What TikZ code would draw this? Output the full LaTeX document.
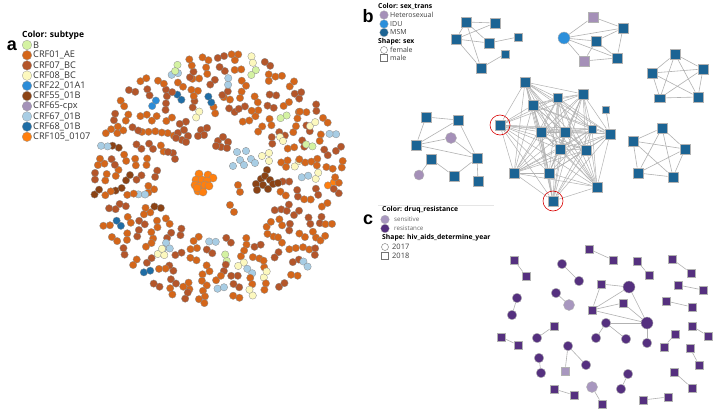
\documentclass[tikz,border=0pt]{standalone}
\usepackage{fontspec}
\setmainfont{Open Sans}
\newfontfamily\lbl{Liberation Sans}
\usetikzlibrary{backgrounds}
\definecolor{cAE}{HTML}{D4661A}
\definecolor{cBC}{HTML}{B4562A}
\definecolor{cLV}{HTML}{8B4315}
\definecolor{cLB}{HTML}{A8CDE4}
\definecolor{cYE}{HTML}{FCF8BE}
\definecolor{cGR}{HTML}{D4F2A2}
\definecolor{cDB}{HTML}{1F6DA5}
\definecolor{cBL}{HTML}{2B8CD8}
\definecolor{cOR}{HTML}{FF7F0E}
\definecolor{cPG}{HTML}{A492B9}
\definecolor{bMSM}{HTML}{1C6494}
\definecolor{bIDU}{HTML}{2B8FDB}
\definecolor{bHET}{HTML}{A590B8}
\definecolor{cRes}{HTML}{55307F}
\definecolor{cSen}{HTML}{A897BF}
\tikzset{
  lettr/.style={font=\lbl\bfseries\fontsize{18}{18}\selectfont, inner sep=0},
  tA/.style={font=\bfseries\fontsize{8.5}{9}\selectfont, anchor=west, inner sep=0},
  tAi/.style={font=\fontsize{9.2}{10}\selectfont, anchor=west, inner sep=0, text=black!80},
  tB/.style={font=\bfseries\fontsize{6.8}{8}\selectfont, anchor=west, inner sep=0},
  tBi/.style={font=\fontsize{7}{8}\selectfont, anchor=west, inner sep=0, text=black!75},
  tCi/.style={font=\fontsize{6.2}{7}\selectfont, anchor=west, inner sep=0, text=black!60},
  tCy/.style={font=\fontsize{7.5}{8}\selectfont, anchor=west, inner sep=0, text=black!75},
  adot/.style={draw=black!45, line width=0.3pt},
  lgdot/.style={circle, inner sep=0, minimum size=9.6pt, draw=black!40, line width=0.3pt},
  lgsm/.style={circle, inner sep=0, minimum size=8.6pt, draw=black!30, line width=0.3pt},
  opc/.style={circle, inner sep=0, minimum size=7pt, draw=black!55, line width=0.4pt},
  ops/.style={rectangle, inner sep=0, minimum size=7pt, draw=black!55, line width=0.4pt},
  bsq/.style={rectangle, inner sep=0, minimum size=10.5pt, fill=bMSM, draw=gray!60, line width=0.4pt},
  bsqs/.style={bsq, minimum size=8pt},
  bcir/.style={circle, inner sep=0, minimum size=10pt, draw=gray!60, line width=0.4pt},
  bedge/.style={draw=black!30, line width=0.6pt},
  redc/.style={circle, draw=red!85!black, line width=0.6pt, minimum size=20pt, inner sep=0},
  csq/.style={rectangle, inner sep=0, minimum size=8.5pt, fill=cRes, draw=gray!60, line width=0.4pt},
  ccir/.style={circle, inner sep=0, minimum size=9.5pt, fill=cRes, draw=gray!60, line width=0.4pt},
  cbig/.style={ccir, minimum size=12pt},
}
\begin{document}
\begin{tikzpicture}[x=1pt,y=-1pt]
\useasboundingbox (0,0) rectangle (719,412);
\begin{pgfonlayer}{background}
\fill[white] (0,0) rectangle (719,412);
\end{pgfonlayer}

% ---------------- panel a ----------------
\node[lettr] (la) at (12,46) {a};
\node[tA] (lta) at (22,35) {Color: subtype};
\foreach \i/\c/\t in {0/cGR/B,1/cAE/CRF01\_AE,2/cBC/CRF07\_BC,3/cYE/CRF08\_BC,4/cBL/CRF22\_01A1,5/cLV/CRF55\_01B,6/cPG/CRF65-cpx,7/cLB/CRF67\_01B,8/cDB/CRF68\_01B,9/cOR/CRF105\_0107} {
  \node[lgdot, fill=\c] (lad\i) at (27,45+10.2*\i) {};
  \node[tAi] (lat\i) at (33,45+10.2*\i) {\t};
}

\foreach \r/\n/\o/\cl in {
  66/23/0/{0,1,0,0,1,3,0,1,0,2,0,1,0,0,1,4,0,1,0,0,1,0,1},
  77/27/7/{1,0,0,1,0,5,1,0,1,0,0,3,1,0,1,0,0,1,6,0,1,0,0,1,0,4,1},
  88/31/3/{0,1,1,0,0,4,1,0,0,1,3,0,1,0,2,0,1,0,0,1,6,0,1,0,0,1,5,0,1,0,3},
  99/35/11/{1,0,0,1,0,3,1,0,0,1,4,0,1,0,1,2,0,0,1,0,7,1,0,0,1,3,0,1,0,0,1,5,0,4,1},
  110/39/5/{0,1,0,0,1,4,0,1,3,0,0,1,0,1,0,6,1,0,0,1,2,0,0,1,0,3,1,0,1,0,5,0,1,0,4,0,1,0,8},
  121/43/2/{1,0,0,1,3,0,1,0,4,0,0,1,0,1,6,0,1,0,0,2,1,0,3,0,1,0,1,0,5,0,0,1,0,4,1,0,0,1,0,3,1,0,0}} {
  \foreach \ci [count=\k] in \cl {
    \pgfmathsetmacro\ang{360*\k/\n+\o+mod(\k*53+\r*7,9)-4}
    \pgfmathsetmacro\rr{\r+mod(\k*29+\r*3,7)-3}
    \pgfmathsetmacro\pa{mod(\k*137.5+\r*23,360)}
    \pgfmathtruncatemacro\tri{mod(\k*7+\r,11)}
    \ifcase\ci \def\col{cAE}\or \def\col{cBC}\or \def\col{cLV}\or \def\col{cLB}\or \def\col{cYE}\or \def\col{cGR}\or \def\col{cDB}\or \def\col{cBL}\else \def\col{cOR}\fi
    \pgfmathsetmacro\cx{219+\rr*cos(\ang)}
    \pgfmathsetmacro\cy{178+\rr*sin(\ang)}
    \pgfmathsetmacro\ax{\cx+3.3*cos(\pa)}
    \pgfmathsetmacro\ay{\cy+3.3*sin(\pa)}
    \pgfmathsetmacro\bx{\cx-3.3*cos(\pa)}
    \pgfmathsetmacro\by{\cy-3.3*sin(\pa)}
    \filldraw[adot, fill=\col] (\ax,\ay) circle[radius=3.7];
    \filldraw[adot, fill=\col] (\bx,\by) circle[radius=3.7];
    \ifnum\tri=0
      \pgfmathsetmacro\tx{\cx+5.8*cos(\pa+90)}
      \pgfmathsetmacro\ty{\cy+5.8*sin(\pa+90)}
      \filldraw[adot, fill=\col] (\tx,\ty) circle[radius=3.7];
    \fi
  }
}
% inner clusters
\foreach \x/\y in {178/133,184/130,188/136,182/140,176/138,186/142}
  \filldraw[adot, fill=cBC] (\x,\y) circle[radius=3.8];
\foreach \x/\y in {201/130,207/128,204/135,198/136}
  \filldraw[adot, fill=cBC] (\x,\y) circle[radius=3.8];
\foreach \x/\y in {218/141,223/137,228/142,221/147,227/148,216/146}
  \filldraw[adot, fill=cBC] (\x,\y) circle[radius=3.8];
\foreach \x/\y in {173/153,175/159,168/152}
  \filldraw[adot, fill=cBC] (\x,\y) circle[radius=3.7];
\foreach \x/\y in {237/152,246/151,251/159,240/160,244/165,233/166,255/163}
  \filldraw[adot, fill=cLB] (\x,\y) circle[radius=3.7];
\foreach \x/\y in {262/156,269/153,269/161,280/137,283/141}
  \filldraw[adot, fill=cYE] (\x,\y) circle[radius=3.7];
\foreach \x/\y in {267/170,256/184,261/179,265/176,270/180,263/185,268/189,273/184,278/183,257/190}
  \filldraw[adot, fill=cLV] (\x,\y) circle[radius=3.8];
\foreach \x/\y in {238/185,240/192,230/205,234/212}
  \filldraw[adot, fill=cAE] (\x,\y) circle[radius=3.7];
\foreach \x/\y in {199/174,208/175,213/178,196/180,202/180,207/181,195/185,200/186,205/185,209/186,198/191,203/192,197/188}
  \filldraw[adot, fill=cOR] (\x,\y) circle[radius=4.1];

% ---------------- panel b ----------------
\node[lettr] (lb) at (368,16) {b};
\node[tB] (ltb) at (378,6) {Color: sex\_trans};
\node[lgsm, fill=bHET] (lbh) at (384,15) {};
\node[tBi] (lbht) at (390,15) {Heterosexual};
\node[lgsm, fill=bIDU] (lbi) at (384,24) {};
\node[tBi] (lbit) at (390,24) {IDU};
\node[lgsm, fill=bMSM] (lbm) at (384,32.5) {};
\node[tBi] (lbmt) at (390,32.5) {MSM};
\node[tB] (lsb) at (378,42) {Shape: sex};
\node[opc] (lbf) at (384,50) {};
\node[tBi] (lbft) at (390,50) {female};
\node[ops] (lbma) at (384,58) {};
\node[tBi] (lbmat) at (390,58) {male};

% top-left cluster
\node[bsq] (t1) at (466,22) {};
\node[bsq] (t2) at (495,23) {};
\node[bsq] (t3) at (456,39) {};
\node[bsq] (t4) at (489,43) {};
\node[bsqs] (t5) at (518,37) {};
\node[bsqs] (t6) at (505,54) {};
\node[bsq] (t7) at (481,68) {};
% top-middle cluster
\node[bcir, fill=bIDU, minimum size=12pt] (m1) at (564,38) {};
\node[bsq, fill=bHET] (m2) at (593,17) {};
\node[bsq] (m3) at (623,28) {};
\node[bsq] (m4) at (596,41) {};
\node[bsq] (m5) at (617,58) {};
\node[bsq, fill=bHET] (m6) at (584,61) {};
% top-right pentagon
\node[bsq] (f1) at (675,54) {};
\node[bsq] (f2) at (703,69) {};
\node[bsq] (f3) at (698,97) {};
\node[bsqs, minimum width=11pt] (f4) at (660,98) {};
\node[bsq] (f5) at (652,73) {};
% bottom-right pentagon
\node[bsq] (g1) at (662,128) {};
\node[bsq] (g2) at (685,149) {};
\node[bsq] (g3) at (673,177) {};
\node[bsq] (g4) at (638,173) {};
\node[bsq] (g5) at (633,141) {};
% left cluster
\node[bsq] (a1) at (426,117) {};
\node[bsq] (a2) at (458,120) {};
\node[bcir, fill=bHET, minimum size=11pt] (a3) at (451,138) {};
\node[bsq] (a4) at (416,145) {};
\node[bsq] (a5) at (431,159) {};
\node[bsq] (a6) at (477,158) {};
\node[bcir, fill=bHET] (a7) at (419,175) {};
\node[bsq] (a8) at (454,176) {};
\node[bsqs, minimum size=9.5pt] (a9) at (478,181) {};
% big cluster
\node[bsq] (n1) at (525,82) {};
\node[bsq] (n2) at (583,94) {};
\node[bsqs, minimum size=9pt] (n3) at (558,98) {};
\node[bsq] (n4) at (533,105) {};
\node[bsqs, minimum size=7pt] (n5) at (606,110) {};
\node[bsq] (n6) at (500,125) {};
\node[bsq] (n7) at (541,132) {};
\node[bsq] (n8) at (565,132) {};
\node[bsqs] (n9) at (592,129) {};
\node[bsq] (n10) at (610,134) {};
\node[bsq] (n11) at (560,149) {};
\node[bsq] (n12) at (586,150) {};
\node[bsq] (n13) at (514,173) {};
\node[bsq] (n14) at (549,173) {};
\node[bsq] (n15) at (597,187) {};
\node[bsq] (n16) at (553,201) {};
\node[redc] (rc1) at (n6) {};
\node[redc] (rc2) at (n16) {};

\begin{pgfonlayer}{background}
\foreach \p/\q in {t1/t2,t1/t3,t3/t2,t1/t4,t1/t7,t3/t4,t3/t7,t4/t5,t6/t7,
  m1/m2,m1/m3,m1/m4,m1/m5,m1/m6,m2/m3,m3/m4,m3/m5,m4/m5,m4/m6,m6/m5,
  f1/f2,f1/f3,f1/f4,f1/f5,f2/f3,f2/f4,f2/f5,f3/f4,f3/f5,f4/f5,
  g1/g2,g1/g3,g1/g4,g1/g5,g2/g3,g2/g4,g2/g5,g3/g4,g3/g5,g4/g5,
  a1/a2,a1/a4,a2/a4,a4/a3,a4/a6,a2/a6,a3/a6,a5/a8,a8/a6,a5/a7,a6/a9,
  n5/n10}
  \draw[bedge] (\p) -- (\q);
\foreach \p [count=\i] in {n1,n2,n3,n4,n6,n7,n8,n9,n10,n11,n12,n13,n14,n15,n16} {
  \foreach \q [count=\j] in {n1,n2,n3,n4,n6,n7,n8,n9,n10,n11,n12,n13,n14,n15,n16} {
    \ifnum\j>\i \draw[bedge, line width=0.5pt] (\p) -- (\q); \fi
  }
}
\end{pgfonlayer}

% ---------------- panel c ----------------
\draw[black!10, line width=0.5pt] (378,205) -- (494,205);
\node[lettr] (lc) at (368,220) {c};
\node[tB] (ltc) at (382,210) {Color: druq\_resistance};
\node[lgsm, fill=cSen] (lcs) at (385,219.5) {};
\node[tCi] (lcst) at (394,219.5) {sensitive};
\node[lgsm, fill=cRes] (lcr) at (385,228.5) {};
\node[tCi] (lcrt) at (394,228.5) {resistance};
\node[tB] (lsc) at (382,238) {Shape: hiv\_aids\_determine\_year};
\node[opc] (lc7) at (385,247) {};
\node[tCy] (lc7t) at (392,247) {2017};
\node[ops] (lc8) at (385,256) {};
\node[tCy] (lc8t) at (392,256) {2018};

\foreach \nm/\x/\y/\s in {p1/589/249/csq,p2/613/260/csq,p3/514/260/csq,p4/526/276/csq,
  p5/562/264/ccir,p6/579/281/ccir,p7/637/261/csq,p8/649/275/csq,p9/672/259/csq,p10/691/273/csq,
  p11/678/285/csq,p12/703/290/csq,p13/517/298/ccir,p14/512/315/ccir,p15/556/293/ccir,
  q1/601/284/csq,q2/629/287/cbig,q3/592/310/csq,q4/623/303/csq,q5/647/323/cbig,q6/606/323/ccir,
  q7/596/338/ccir,q8/626/339/ccir,q9/647/343/ccir,
  p17/666/301/csq,p18/692/307/csq,p19/692/326/csq,p20/708/336/csq,p21/675/334/csq,p22/664/347/csq,
  p23/554/326/csq,p24/537/338/ccir,p25/501/337/csq,p26/518/345/csq,p27/568/346/ccir,p28/586/365/ccir,
  p30/539/358/ccir,p31/541/373/ccir,p32/690/348/csq,p33/699/365/csq,p34/628/374/ccir,p35/621/389/ccir,
  p36/674/372/csq,p37/692/388/csq,p38/554/389/csq,p39/574/395/csq,p41/602/404/csq,p42/643/400/csq,p43/668/397/csq}
  \node[\s] (\nm) at (\x,\y) {};
\node[ccir, fill=cSen, minimum size=11pt] (p16) at (569,305) {};
\node[csq, fill=cSen] (p29) at (565,371) {};
\node[ccir, fill=cSen, minimum size=11pt] (p40) at (592,387) {};

\begin{pgfonlayer}{background}
\foreach \p/\q in {p1/p2,p3/p4,p5/p6,p7/p8,p9/p10,p11/p12,p13/p14,p15/p16,
  q1/q2,q1/q3,q3/q2,q3/q4,q3/q5,q2/q5,q4/q5,q6/q5,q6/q7,q6/q8,q5/q9,
  p17/p18,p19/p20,p21/p22,p23/p24,p25/p26,p27/p28,p27/p29,p30/p31,p32/p33,p34/p35,
  p36/p37,p38/p39,p40/p41,p42/p43}
  \draw[bedge] (\p) -- (\q);
\end{pgfonlayer}
\end{tikzpicture}
\end{document}
